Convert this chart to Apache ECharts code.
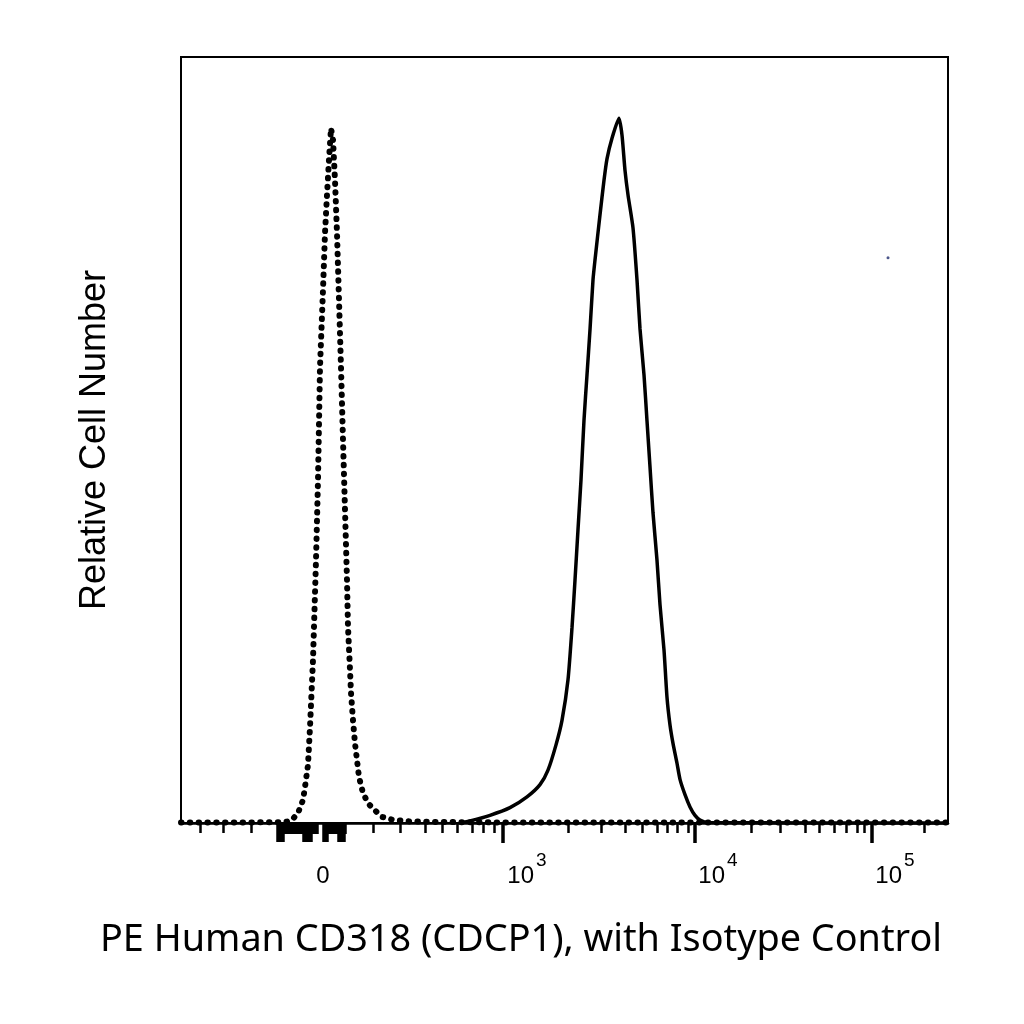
<!DOCTYPE html>
<html lang="en">
<head>
    <meta charset="UTF-8">
    <title>CD318 histogram</title>
    <script src="https://cdn.jsdelivr.net/npm/echarts@6/dist/echarts.min.js"></script>
    <style>
        html, body {margin:0; padding:0; background:#fff}
    </style>
</head>
<body>
<div id="main" style="width:1024px; height:1024px;"></div>
<script>
    // channel position along the biexponential axis (0..767) and relative count (0..100)
    var isoX = [0, 60, 100, 105, 111, 117, 122, 124, 127, 129, 132, 135, 137, 139, 142, 144, 146, 148, 150, 152,
        154, 156, 158, 160, 162, 164, 166, 167, 169, 170, 172, 174, 178, 182, 187, 191, 201, 212, 229, 259, 320, 767];
    var isoY = [0.07, 0.07, 0.1, 0.15, 0.4, 1.3, 3.0, 4.7, 7.6, 12.5, 21.3, 34.3, 44.8, 59.5, 69.6, 77.0, 82.0, 86.6, 90.7, 89.2,
        83.9, 77.0, 68.3, 59.5, 50.0, 40.9, 31.7, 25.6, 20.0, 17.0, 13.4, 10.4, 6.0, 3.9, 2.6, 2.0, 0.8, 0.4, 0.2, 0.13, 0.07, 0.07];

    var cdX = [279, 289, 309, 329, 346, 359, 367, 375, 381, 387, 391, 394, 397, 400, 403, 406, 409, 412, 414, 419,
        423, 426, 431, 438, 441, 444, 447, 452, 456, 459, 463, 466, 469, 472, 476, 479, 483, 486, 489, 492,
        496, 499, 504, 509, 514, 519, 527, 767];
    var cdY = [0, 0.26, 1.0, 2.0, 3.4, 5.0, 6.9, 10.2, 13.4, 18.7, 25.5, 31.7, 38.3, 44.8, 52.6, 58.5, 64.4, 70.9, 73.5, 79.4,
        83.9, 86.7, 89.4, 92.0, 89.8, 85.2, 82.0, 77.7, 70.9, 64.5, 58.5, 52.5, 46.5, 40.5, 34.3, 28.5, 22.6, 16.4, 12.8, 10.4,
        7.8, 5.7, 3.7, 2.1, 1.0, 0.4, 0.07, 0];

    var strayX = [707];
    var strayY = [73.8];

    // axis decorations
    var labelPos = [142, 346, 537, 714];
    var labelText = ['{a|0}', '{a|10}{b|3}', '{a|10}{b|4}', '{a|10}{b|5}'];
    var minorTicks = [19, 42, 70, 192, 219, 244, 261, 276, 291, 302, 313, 387, 420, 444, 461, 476, 486, 496, 507,
        570, 599, 624, 638, 653, 665, 676, 683, 743];
    var majorTicks = [322, 514, 691];
    var zeroTicks = [96, 98, 100, 102, 104, 106, 108, 110, 112, 114, 116, 118, 120, 122, 124, 126, 128, 130, 132, 134, 136,
        142, 144, 146, 148, 150, 152, 154, 156, 158, 160, 162, 164];
    var zeroLong = [96, 98, 100, 102, 122, 124, 126, 128, 130, 142, 144, 146, 157, 159, 161, 163];

    function zip(a, b) {
        var out = [];
        for (var i = 0; i < a.length; i++) out.push([a[i], b[i]]);
        return out;
    }

    var chart = echarts.init(document.getElementById('main'));

    function tickAxis(values, len, w) {
        return {
            type: 'value', position: 'bottom', min: 0, max: 767,
            axisLine: {show: false},
            axisLabel: {show: false},
            splitLine: {show: false},
            axisTick: {show: true, customValues: values, length: len, lineStyle: {color: '#000', width: w}}
        };
    }

    chart.setOption({
        animation: false,
        grid: {
            left: 181, right: 76, top: 57, bottom: 201,
            show: true, borderColor: '#000', borderWidth: 2, backgroundColor: 'transparent'
        },
        graphic: [{
            type: 'text', left: 100, top: 921,
            style: {
                text: 'PE Human CD318 (CDCP1), with Isotype Control',
                fontFamily: 'Noto Sans', fontSize: 37.8, fill: '#000'
            }
        }],
        xAxis: [{
            type: 'value', position: 'bottom', min: 0, max: 767,
            axisLine: {show: true, onZero: false, lineStyle: {color: '#000', width: 2.5}},
            axisTick: {show: false},
            splitLine: {show: false},
            axisLabel: {
                show: true, customValues: labelPos, margin: 28,
                formatter: function (v) {
                    var k = labelPos.indexOf(v);
                    return k >= 0 ? labelText[k] : '';
                },
                rich: {
                    a: {fontFamily: 'Liberation Sans', fontSize: 24, lineHeight: 51, color: '#000'},
                    b: {fontFamily: 'Liberation Sans', fontSize: 19, color: '#000', padding: [0, 0, 32, 2]}
                }
            }
        },
            tickAxis(minorTicks, 10, 2.5),
            tickAxis(majorTicks, 20, 3.5),
            tickAxis(zeroTicks, 11, 2.5),
            tickAxis(zeroLong, 19, 2.5)
        ],
        yAxis: {
            type: 'value', min: 0, max: 100,
            name: 'Relative Cell Number', nameLocation: 'middle', nameGap: 68,
            nameTextStyle: {fontFamily: 'Liberation Sans', fontSize: 36, color: '#000'},
            axisLine: {show: false},
            axisTick: {show: false},
            axisLabel: {show: false},
            splitLine: {show: false}
        },
        series: [{
            name: 'Isotype Control',
            type: 'line',
            symbol: 'none',
            data: zip(isoX, isoY),
            lineStyle: {color: '#000', width: 6, type: [0.5, 8.3], cap: 'round'}
        }, {
            name: 'CD318',
            type: 'line',
            symbol: 'none',
            smooth: 0.2,
            data: zip(cdX, cdY),
            lineStyle: {color: '#000', width: 3.5}
        }, {
            name: 'stray',
            type: 'scatter',
            symbolSize: 3,
            data: zip(strayX, strayY),
            itemStyle: {color: '#1f2d6e'}
        }]
    });
</script>
</body>
</html>
